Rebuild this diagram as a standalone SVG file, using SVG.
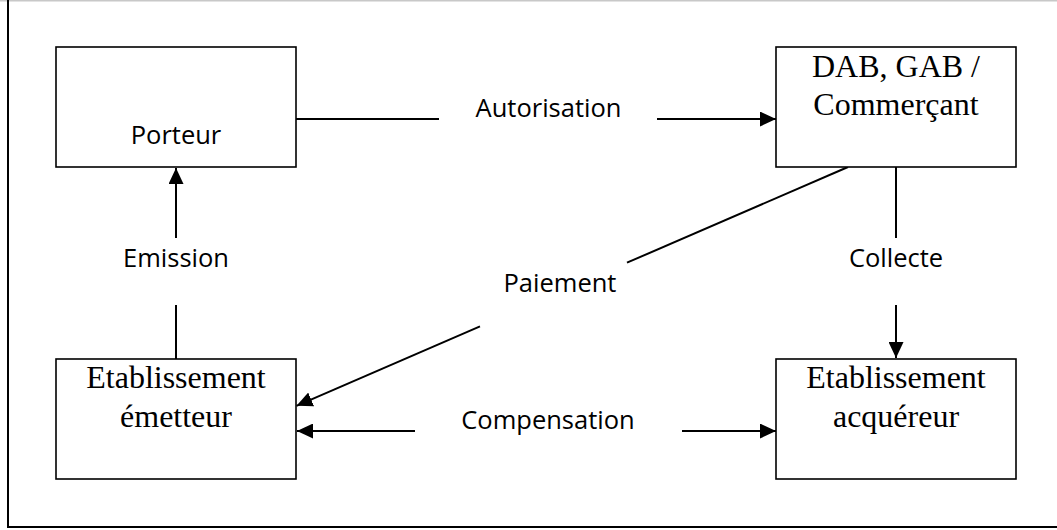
<svg xmlns="http://www.w3.org/2000/svg" width="1057" height="530" viewBox="0 0 1057 530">
<style>
.box{fill:#fff;stroke:#000;stroke-width:1.6}
.conn{stroke:#000;stroke-width:2;fill:none}
.serif{font-family:"Liberation Serif","Times New Roman",serif;font-size:32px;fill:#000;text-anchor:middle}
.sans{font-family:"Open Sans","Noto Sans",sans-serif;font-size:25.5px;fill:#000;text-anchor:middle}
</style>
<defs>
<marker id="arrow" markerUnits="userSpaceOnUse" markerWidth="16" markerHeight="15" refX="16" refY="7.5" orient="auto">
<path d="M0,0 L16,7.5 L0,15 z" fill="#000"/>
</marker>
</defs>
<rect width="1057" height="530" fill="#fff"/>
<g id="frame">
<line x1="0" y1="0.7" x2="1057" y2="0.7" stroke="#c8c8c8" stroke-width="1.5"/>
<polyline points="8,0 8,527 1057,527" fill="none" stroke="#000" stroke-width="2"/>
</g>
<g id="connectors">
<line class="conn" x1="296" y1="119" x2="439" y2="119"/>
<line class="conn" x1="657" y1="119" x2="776" y2="119" marker-end="url(#arrow)"/>
<text class="sans" x="548.5" y="117">Autorisation</text>
<line class="conn" x1="176" y1="238" x2="176" y2="168" marker-end="url(#arrow)"/>
<line class="conn" x1="176" y1="305" x2="176" y2="359"/>
<text class="sans" x="176" y="267">Emission</text>
<line class="conn" x1="896" y1="167" x2="896" y2="238"/>
<line class="conn" x1="896" y1="305" x2="896" y2="358" marker-end="url(#arrow)"/>
<text class="sans" x="896" y="267">Collecte</text>
<line class="conn" x1="848" y1="167" x2="627" y2="262.7"/>
<line class="conn" x1="480" y1="326.3" x2="296.5" y2="405.8" marker-end="url(#arrow)"/>
<text class="sans" x="560" y="292">Paiement</text>
<line class="conn" x1="415" y1="431" x2="297" y2="431" marker-end="url(#arrow)"/>
<line class="conn" x1="682" y1="431" x2="776" y2="431" marker-end="url(#arrow)"/>
<text class="sans" x="548" y="429">Compensation</text>
</g>
<g id="porteur">
<rect class="box" x="56" y="47" width="240" height="120"/>
<text class="sans" x="176" y="144">Porteur</text>
</g>
<g id="dab">
<rect class="box" x="776" y="47" width="240" height="120"/>
<text class="serif" x="896" y="77">DAB, GAB /</text>
<text class="serif" x="896" y="115">Commerçant</text>
</g>
<g id="emetteur">
<rect class="box" x="56" y="359" width="240" height="120"/>
<text class="serif" x="176" y="388">Etablissement</text>
<text class="serif" x="176" y="427">émetteur</text>
</g>
<g id="acquereur">
<rect class="box" x="776" y="359" width="240" height="120"/>
<text class="serif" x="896" y="388">Etablissement</text>
<text class="serif" x="896" y="427">acquéreur</text>
</g>
</svg>
